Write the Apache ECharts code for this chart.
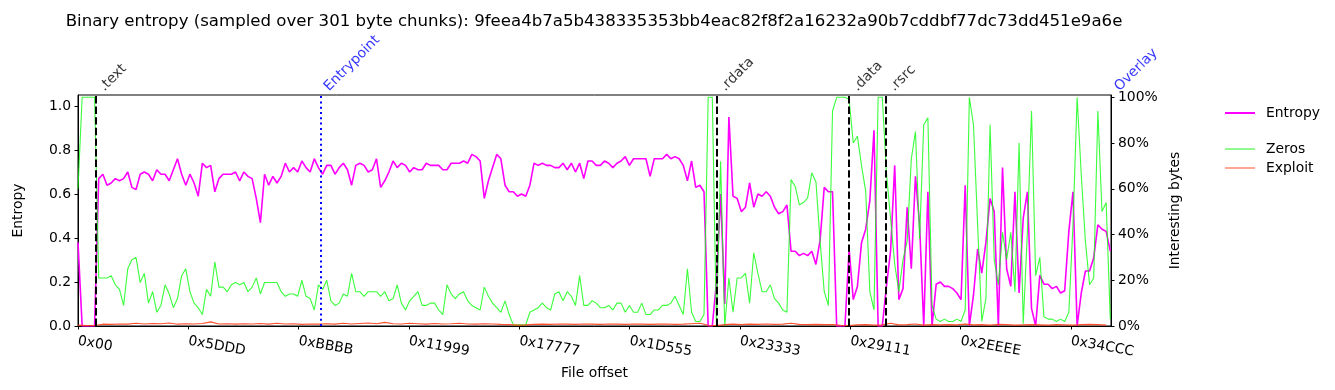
<!DOCTYPE html>
<html>
<head>
<meta charset="utf-8">
<script src="https://cdn.jsdelivr.net/npm/echarts@6/dist/echarts.min.js"></script>
<style>html,body{margin:0;padding:0;background:#fff}#c{width:1335px;height:390px}</style>
</head>
<body>
<div id="c"></div>
<script>
const titleText = 'Binary entropy (sampled over 301 byte chunks): 9feea4b7a5b438335353bb4eac82f8f2a16232a90b7cddbf77dc73dd451e9a6e';
const chunkSize = 301;
const sampleStep = chunkSize * 3;      // bytes between plotted entropy/zeros samples
const exploitStep = chunkSize * 6;     // bytes between plotted exploit samples
const fileEnd = 225000;
const xTickStep = 24029.87;

const entropy = [
0.38,0,0,0,0,0.67,0.69,0.64,0.65,0.67,0.66,0.67,0.70,0.63,0.62,0.69,0.70,0.69,0.66,0.71,
0.69,0.69,0.66,0.71,0.76,0.69,0.64,0.69,0.65,0.59,0.74,0.72,0.73,0.61,0.67,0.69,0.69,0.69,0.70,0.66,
0.70,0.68,0.67,0.58,0.47,0.69,0.64,0.68,0.65,0.68,0.74,0.70,0.72,0.70,0.75,0.72,0.70,0.76,0.72,0.69,
0.73,0.73,0.69,0.72,0.74,0.71,0.64,0.73,0.74,0.73,0.70,0.71,0.76,0.63,0.66,0.70,0.75,0.72,0.74,0.73,
0.70,0.72,0.71,0.71,0.74,0.73,0.73,0.73,0.71,0.71,0.74,0.74,0.74,0.75,0.74,0.78,0.77,0.75,0.58,0.66,
0.72,0.78,0.76,0.64,0.61,0.61,0.59,0.60,0.59,0.64,0.74,0.73,0.74,0.73,0.73,0.72,0.72,0.74,0.71,0.74,
0.70,0.74,0.67,0.75,0.75,0.73,0.73,0.75,0.74,0.72,0.74,0.75,0.77,0.73,0.76,0.76,0.76,0.76,0.68,0.76,
0.76,0.76,0.78,0.76,0.77,0.76,0.73,0.66,0.75,0.63,0.64,0.61,0,0,0.2,0.6,0.1,0.95,0.59,0.58,
0.52,0.54,0.65,0.54,0.60,0.59,0.61,0.59,0.54,0.51,0.52,0.55,0.34,0.34,0.32,0.33,0.32,0.34,0.28,0.39,
0.63,0.61,0.61,0,0,0,0.35,0.12,0.18,0.38,0.44,0.57,0.89,0,0,0.18,0.34,0.73,0.12,0.17,
0.54,0.26,0.68,0.46,0,0.61,0,0.19,0.20,0.18,0.18,0.17,0.15,0.12,0.64,0,0.14,0.35,0.24,0.38,
0.58,0.52,0,0.72,0.26,0.18,0.61,0.15,0.49,0.61,0.08,0,0.23,0.19,0.19,0.17,0.18,0.15,0.16,0.43,
0.61,0,0.15,0.25,0.25,0.31,0.46,0.44,0.43,0.34
];

const zeros = [
0.6,1,1,1,1,0.21,0.21,0.21,0.22,0.18,0.16,0.09,0.25,0.29,0.30,0.19,0.23,0.10,0.15,0.06,
0.09,0.18,0.14,0.08,0.12,0.22,0.25,0.15,0.10,0.08,0.05,0.16,0.13,0.28,0.17,0.17,0.15,0.18,0.19,0.18,
0.19,0.15,0.17,0.21,0.14,0.19,0.19,0.19,0.19,0.15,0.13,0.14,0.14,0.13,0.20,0.13,0.12,0.07,0.18,0.16,
0.20,0.11,0.09,0.10,0.14,0.13,0.23,0.15,0.15,0.13,0.15,0.15,0.15,0.13,0.15,0.11,0.12,0.18,0.10,0.07,
0.11,0.13,0.15,0.09,0.09,0.10,0.10,0.07,0.05,0.18,0.14,0.12,0.14,0.15,0.11,0.09,0.08,0.07,0.17,0.13,
0.10,0.08,0.06,0.11,0.05,0.005,0.005,0.005,0.005,0.06,0.07,0.08,0.10,0.08,0.07,0.14,0.15,0.11,0.15,0.13,
0.09,0.22,0.09,0.09,0.11,0.10,0.08,0.08,0.09,0.07,0.10,0.10,0.06,0.09,0.06,0.06,0.10,0.05,0.05,0.07,
0.07,0.09,0.09,0.10,0.13,0.09,0.05,0.25,0.06,0.02,0.02,0.05,1,1,0,0.72,0,0.21,0.06,0.21,
0.21,0.23,0.10,0.32,0.23,0.15,0.15,0.18,0.12,0.10,0.07,0.06,0.64,0.61,0.53,0.54,0.56,0.67,0.63,0.37,
0.15,0.09,0.94,1,1,1,0.99,0.80,0.83,0.70,0.59,0.15,0.07,1,1,0.67,0.47,0.27,0.15,0.29,
0.37,0.73,0.85,0.38,0.88,0.91,0.09,0.03,0.02,0.03,0.02,0.02,0.03,0.02,0.07,1,0.88,0.44,0.02,0.12,
0.88,0.29,0.18,0.41,0.29,0.41,0.15,0.8,0.01,0.41,0.94,0.22,0.3,0.04,0.03,0.03,0.02,0.03,0.02,0.06,
0.44,1,0.66,0.37,0.18,0.21,0.94,0.50,0.54,0.03
];

const exploit = [
0.004,0.002,0.002,0.008,0.007,0.009,0.008,0.012,0.009,0.011,0.010,0.013,0.008,0.010,0.009,0.011,0.018,0.009,0.010,0.008,
0.010,0.009,0.011,0.008,0.012,0.009,0.010,0.007,0.009,0.008,0.010,0.008,0.012,0.009,0.011,0.013,0.010,0.016,0.010,0.009,
0.012,0.010,0.008,0.011,0.009,0.010,0.012,0.009,0.008,0.010,0.009,0.007,0.006,0.004,0.005,0.007,0.008,0.007,0.009,0.008,
0.007,0.009,0.008,0.007,0.009,0.008,0.007,0.009,0.008,0.007,0.008,0.009,0.007,0.008,0.010,0.012,0.003,0.002,0.006,0.008,
0.006,0.008,0.007,0.009,0.007,0.008,0.012,0.007,0.006,0.007,0.006,0.006,0.003,0.002,0.005,0.006,0.004,0.005,0.012,0.005,
0.006,0.009,0.004,0.006,0.005,0.006,0.005,0.008,0.005,0.006,0.004,0.007,0.006,0.004,0.005,0.006,0.005,0.004,0.006,0.005,
0.004,0.006,0.007,0.006,0.004
];

const sectionNames   = ['.text', 'Entrypoint', '.rdata', '.data', '.rsrc', 'Overlay'];
const sectionOffsets = [3900, 52812, 139095, 167942, 175945, 225000];
const sectionKinds   = ['section', 'entrypoint', 'section', 'section', 'section', 'overlay'];

const FONT = 'DejaVu Sans';
const kindStyle = {
  section:    { color: '#000000', line: { color: '#000', width: 2, type: [7.4, 3.2] } },
  entrypoint: { color: '#0000ff', line: { color: '#0000ff', width: 2, type: [2, 3.3] } },
  overlay:    { color: '#0000ff', line: null }
};

const entropyData = entropy.map((v, i) => [i * sampleStep, v]);
const zerosData = zeros.map((v, i) => [i * sampleStep, v]);
const exploitData = exploit.map((v, i) => [i * exploitStep, v]);

const markLines = [];
const labelPts = [];
sectionNames.forEach((n, k) => {
  const st = kindStyle[sectionKinds[k]];
  if (st.line) markLines.push({ xAxis: sectionOffsets[k], lineStyle: st.line });
  labelPts.push({ value: [sectionOffsets[k], 1.05], name: n, label: { color: st.color } });
});

const hex = v => '0x' + (v === 0 ? '00' : Math.floor(v + 1e-6).toString(16).toUpperCase());

const chart = echarts.init(document.getElementById('c'), null, { renderer: 'canvas' });
chart.setOption({
  animation: false,
  backgroundColor: '#fff',
  textStyle: { fontFamily: FONT },
  title: {
    text: titleText, left: 589, top: 8, textAlign: 'center',
    textStyle: { fontFamily: FONT, fontSize: 16.6, fontWeight: 'normal', color: '#000' }
  },
  grid: { left: 78, right: 224, top: 95, bottom: 64, show: true, borderColor: '#000', borderWidth: 1, backgroundColor: 'transparent' },
  legend: [
    { data: ['Entropy'], left: 1220, top: 101, orient: 'vertical', icon: 'rect', itemWidth: 30, itemHeight: 2,
      textStyle: { fontFamily: FONT, fontSize: 13.9, color: '#000', padding: [0, 0, 0, 6] } },
    { data: ['Zeros', 'Exploit'], left: 1220, top: 137, orient: 'vertical', icon: 'rect', itemWidth: 30, itemHeight: 1, itemGap: 5,
      textStyle: { fontFamily: FONT, fontSize: 13.9, color: '#000', padding: [0, 0, 0, 6] } }
  ],
  xAxis: {
    type: 'value', min: 0, max: fileEnd, interval: xTickStep,
    name: 'File offset', nameLocation: 'middle', nameGap: 40,
    nameTextStyle: { fontFamily: FONT, fontSize: 13.9, color: '#000' },
    axisLine: { lineStyle: { color: '#000' } },
    axisTick: { length: 3.5, lineStyle: { color: '#000' } },
    axisLabel: { rotate: -10, margin: 15, fontSize: 13.9, color: '#000', formatter: hex, showMaxLabel: false },
    splitLine: { show: false }
  },
  yAxis: [
    { type: 'value', min: 0, max: 1.05, interval: 0.2, position: 'left',
      name: 'Entropy', nameLocation: 'middle', nameGap: 53,
      nameTextStyle: { fontFamily: FONT, fontSize: 13.9, color: '#000' },
      axisLine: { show: true, lineStyle: { color: '#000' } },
      axisTick: { length: 3.5, lineStyle: { color: '#000' } },
      axisLabel: { margin: 7, fontSize: 13.9, color: '#000', formatter: v => v.toFixed(1), showMaxLabel: false },
      splitLine: { show: false } },
    { type: 'value', min: 0, max: 1.01, interval: 0.2, position: 'right',
      name: 'Interesting bytes', nameLocation: 'middle', nameGap: 51,
      nameTextStyle: { fontFamily: FONT, fontSize: 13.9, color: '#000' },
      axisLine: { show: true, lineStyle: { color: '#000' } },
      axisTick: { length: 3.5, lineStyle: { color: '#000' } },
      axisLabel: { margin: 7, fontSize: 13.9, color: '#000', formatter: v => Math.round(v * 100) + '%', showMaxLabel: false },
      splitLine: { show: false } }
  ],
  series: [
    { name: 'Entropy', type: 'line', yAxisIndex: 0, data: entropyData, showSymbol: false, symbol: 'none',
      lineStyle: { color: '#ff00ff', width: 1.6 }, itemStyle: { color: '#ff00ff' }, z: 2,
      markLine: { silent: true, symbol: 'none', label: { show: false }, data: markLines, animation: false } },
    { name: 'Zeros', type: 'line', yAxisIndex: 1, data: zerosData, showSymbol: false, symbol: 'none',
      lineStyle: { color: 'rgba(10,255,10,0.8)', width: 1.1 }, itemStyle: { color: 'rgba(10,245,10,0.9)' }, z: 3 },
    { name: 'Exploit', type: 'line', yAxisIndex: 1, data: exploitData, showSymbol: false, symbol: 'none',
      lineStyle: { color: 'rgba(255,60,20,0.9)', width: 1.1 }, itemStyle: { color: 'rgba(255,60,20,0.9)' }, z: 3 },
    { name: 'sections', type: 'scatter', yAxisIndex: 0, data: labelPts, symbolSize: 0.1, clip: false, silent: true,
      itemStyle: { color: 'rgba(0,0,0,0)' },
      label: { show: true, formatter: p => p.name, position: [11, -1], rotate: 45, align: 'left', verticalAlign: 'bottom',
        fontFamily: FONT, fontSize: 13.9 } }
  ]
});
</script>
</body>
</html>
